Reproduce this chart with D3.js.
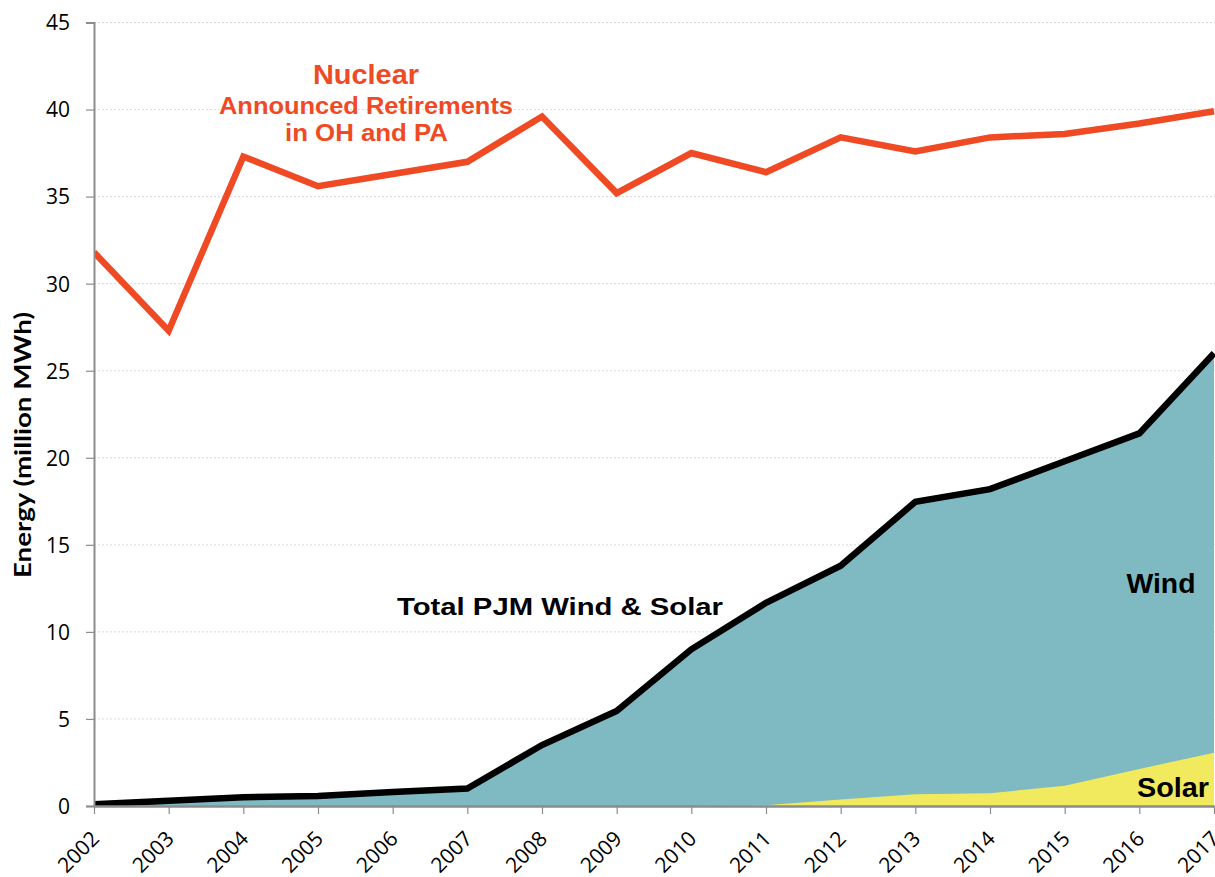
<!DOCTYPE html>
<html>
<head>
<meta charset="utf-8">
<script src="https://cdn.jsdelivr.net/npm/d3@7"></script>
<style>
  html, body { margin: 0; padding: 0; background: #fff; }
  svg { display: block; }
</style>
</head>
<body>
<svg id="chart" width="1215" height="877"></svg>
<script>
const years = [2002,2003,2004,2005,2006,2007,2008,2009,2010,2011,2012,2013,2014,2015,2016,2017];
const nuclear = [31.8,27.3,37.3,35.6,36.3,37.0,39.6,35.2,37.5,36.4,38.4,37.6,38.4,38.6,39.2,39.9];
const solar = [0,0,0,0,0,0,0,0,0,0.05,0.38,0.67,0.73,1.17,2.13,3.06];
const wind = [0.1,0.3,0.5,0.57,0.8,1.0,3.5,5.46,9.0,11.62,13.42,16.8,17.47,18.63,19.27,22.94];
const yTicks = [0,5,10,15,20,25,30,35,40,45];

(function () {
const svg = d3.select("#chart");
const mLeft = 94, mRight = 1214, mTop = 22.5, mBottom = 806;

const x = d3.scaleLinear().domain([2002, 2017]).range([mLeft, mRight]);
const y = d3.scaleLinear().domain([0, 45]).range([mBottom, mTop]);

const rows = years.map((yr, i) => ({year: yr, solar: solar[i], wind: wind[i]}));
const stacked = d3.stack().keys(["solar", "wind"])(rows);

// gridlines
svg.append("g").selectAll("line").data(yTicks.filter(d => d > 0)).join("line")
  .attr("x1", mLeft).attr("x2", 1215)
  .attr("y1", d => y(d)).attr("y2", d => y(d))
  .attr("stroke", "#d9d9d9").attr("stroke-width", 1).attr("stroke-dasharray", "2,2");

svg.append("defs").append("clipPath").attr("id", "clip")
  .append("rect").attr("x", mLeft).attr("y", 0).attr("width", 1215 - mLeft).attr("height", mBottom);

const plot = svg.append("g").attr("clip-path", "url(#clip)");

const colors = {solar: "#f2ea5e", wind: "#7fb9c1"};
plot.selectAll("path.area").data(stacked.slice().reverse()).join("path")
  .attr("class", "area")
  .attr("d", d => d3.area().x((p, i) => x(years[i])).y0(y(0)).y1(p => y(p[1]))(d))
  .attr("fill", d => colors[d.key]);

// total line
const total = stacked[1].map(d => d[1]);
plot.append("path")
  .datum(total)
  .attr("d", d3.line().x((d, i) => x(years[i])).y(d => y(d)))
  .attr("fill", "none").attr("stroke", "#000").attr("stroke-width", 6.5)
  .attr("stroke-linejoin", "miter");

// nuclear line
plot.append("path")
  .datum(nuclear)
  .attr("d", d3.line().x((d, i) => x(years[i])).y(d => y(d)))
  .attr("fill", "none").attr("stroke", "#ef4a24").attr("stroke-width", 6.5)
  .attr("stroke-linejoin", "miter");

// axes
const yAxis = svg.append("g").attr("transform", `translate(${mLeft},0)`)
  .call(d3.axisLeft(y).tickValues(yTicks).tickSize(8).tickPadding(16));
yAxis.select(".domain").attr("stroke", "#8c8c8c").attr("stroke-width", 2);
yAxis.selectAll(".tick line").attr("stroke", "#8c8c8c").attr("stroke-width", 1.2);
yAxis.selectAll(".tick text").attr("font-family", "'Open Sans', sans-serif").attr("font-size", 21)
  .attr("fill", "#000").attr("dy", "0.35em");

const xAxis = svg.append("g").attr("transform", `translate(0,${mBottom})`)
  .call(d3.axisBottom(x).tickValues(years).tickFormat(d3.format("d")).tickSize(8).tickSizeOuter(0));
xAxis.select(".domain").attr("stroke", "#8c8c8c").attr("stroke-width", 2.5);
xAxis.selectAll(".tick line").attr("stroke", "#8c8c8c").attr("stroke-width", 1.2);
xAxis.selectAll(".tick text")
  .attr("font-family", "'Open Sans', sans-serif").attr("font-size", 21).attr("fill", "#000")
  .attr("text-anchor", "end").attr("x", 0).attr("y", 0).attr("dy", 0)
  .attr("transform", "translate(6,34) rotate(-45)");

// axis title
svg.append("text")
  .attr("transform", "translate(31,445) rotate(-90)")
  .attr("text-anchor", "middle")
  .attr("font-family", "Lato, sans-serif").attr("font-weight", "bold").attr("font-size", 22)
  .attr("textLength", 266).attr("lengthAdjust", "spacingAndGlyphs")
  .text("Energy (million MWh)");

// annotations
const ann = [
  {t: "Nuclear", x: 366, y: 84, s: 28, w: 106, c: "#ef4a24"},
  {t: "Announced Retirements", x: 366, y: 114, s: 24, w: 294, c: "#ef4a24"},
  {t: "in OH and PA", x: 366.5, y: 141, s: 24, w: 163, c: "#ef4a24"},
  {t: "Total PJM Wind & Solar", x: 560, y: 615, s: 24, w: 326, c: "#000"},
  {t: "Wind", x: 1161, y: 593, s: 28, w: 69, c: "#000"},
  {t: "Solar", x: 1173, y: 797, s: 28, w: 72, c: "#000"}
];
svg.append("g").selectAll("text").data(ann).join("text")
  .attr("x", d => d.x).attr("y", d => d.y)
  .attr("text-anchor", "middle")
  .attr("font-family", "'Liberation Sans', Arial, sans-serif").attr("font-weight", "bold")
  .attr("font-size", d => d.s).attr("fill", d => d.c)
  .attr("textLength", d => d.w).attr("lengthAdjust", "spacingAndGlyphs")
  .text(d => d.t);
})();
</script>
</body>
</html>
